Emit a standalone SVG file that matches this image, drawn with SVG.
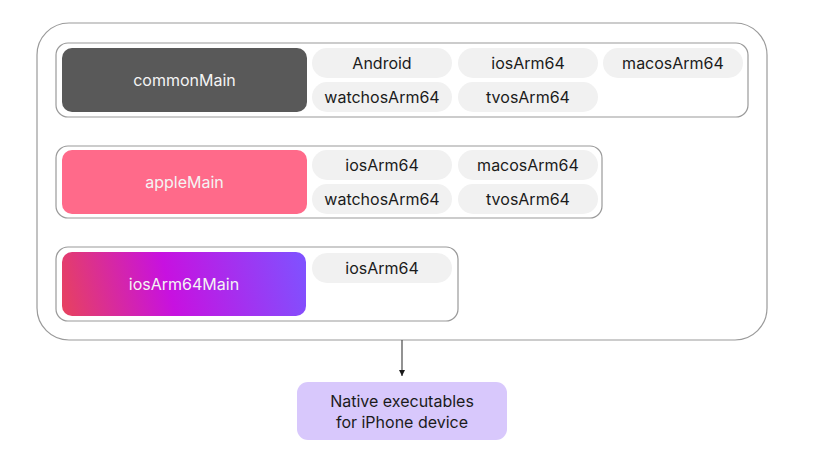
<svg xmlns="http://www.w3.org/2000/svg" width="822" height="473" viewBox="0 0 822 473">
<style>
text{font-family:Inter,"Noto Sans","Liberation Sans",sans-serif;font-size:16px;text-anchor:middle;dominant-baseline:central}
.frame{fill:#fff;stroke:#9a9a9a;stroke-width:1.2}
.pill{fill:#f1f1f1}
.pt{fill:#1b1b1b}
.mt{fill:#f4f4f4}
.conn{stroke:#4a4a4a;stroke-width:1.2;fill:none}
</style>
<defs>
<linearGradient id="g" gradientUnits="userSpaceOnUse" x1="60" y1="320" x2="306" y2="262">
<stop offset="0" stop-color="#e8445a"/>
<stop offset="0.45" stop-color="#c711e0"/>
<stop offset="1" stop-color="#7f52ff"/>
</linearGradient>
<marker id="ah" viewBox="0 0 8 8" refX="8" refY="4" markerWidth="6" markerHeight="6" orient="auto" markerUnits="userSpaceOnUse">
<path d="M0,0 L8,4 L0,8 z" fill="#1b1b1b"/>
</marker>
</defs>
<g id="outer"><rect class="frame" x="37" y="23" width="730" height="317" rx="32"/></g>
<g id="row-common">
<rect class="frame" x="56" y="43" width="692" height="74" rx="12"/>
<rect x="62" y="48" width="245" height="64" rx="10" fill="#595959"/>
<text class="mt" x="184.5" y="80">commonMain</text>
<rect class="pill" x="312" y="48" width="140" height="30" rx="15"/><text class="pt" x="382" y="63">Android</text>
<rect class="pill" x="458" y="48" width="140" height="30" rx="15"/><text class="pt" x="528" y="63">iosArm64</text>
<rect class="pill" x="603" y="48" width="140" height="30" rx="15"/><text class="pt" x="673" y="63">macosArm64</text>
<rect class="pill" x="312" y="82" width="140" height="30" rx="15"/><text class="pt" x="382" y="97">watchosArm64</text>
<rect class="pill" x="458" y="82" width="140" height="30" rx="15"/><text class="pt" x="528" y="97">tvosArm64</text>
</g>
<g id="row-apple">
<rect class="frame" x="56" y="146" width="546" height="72" rx="12"/>
<rect x="62" y="150" width="245" height="64" rx="10" fill="#ff6a8a"/>
<text class="mt" x="184.5" y="182">appleMain</text>
<rect class="pill" x="312" y="150" width="140" height="30" rx="15"/><text class="pt" x="382" y="165">iosArm64</text>
<rect class="pill" x="458" y="150" width="140" height="30" rx="15"/><text class="pt" x="528" y="165">macosArm64</text>
<rect class="pill" x="312" y="184" width="140" height="30" rx="15"/><text class="pt" x="382" y="199">watchosArm64</text>
<rect class="pill" x="458" y="184" width="140" height="30" rx="15"/><text class="pt" x="528" y="199">tvosArm64</text>
</g>
<g id="row-ios">
<rect class="frame" x="56" y="247" width="402" height="74" rx="12"/>
<rect x="62" y="252" width="244" height="64" rx="10" fill="url(#g)"/>
<text class="mt" x="184" y="284">iosArm64Main</text>
<rect class="pill" x="312" y="253" width="140" height="30" rx="15"/><text class="pt" x="382" y="268">iosArm64</text>
</g>
<g id="connectors"><line class="conn" x1="402" y1="340" x2="402" y2="376" marker-end="url(#ah)"/></g>
<g id="native">
<rect x="297" y="382" width="210" height="58" rx="11" fill="#d8c8fc"/>
<text class="pt" x="402" y="401">Native executables</text>
<text class="pt" x="402" y="422">for iPhone device</text>
</g>
</svg>
